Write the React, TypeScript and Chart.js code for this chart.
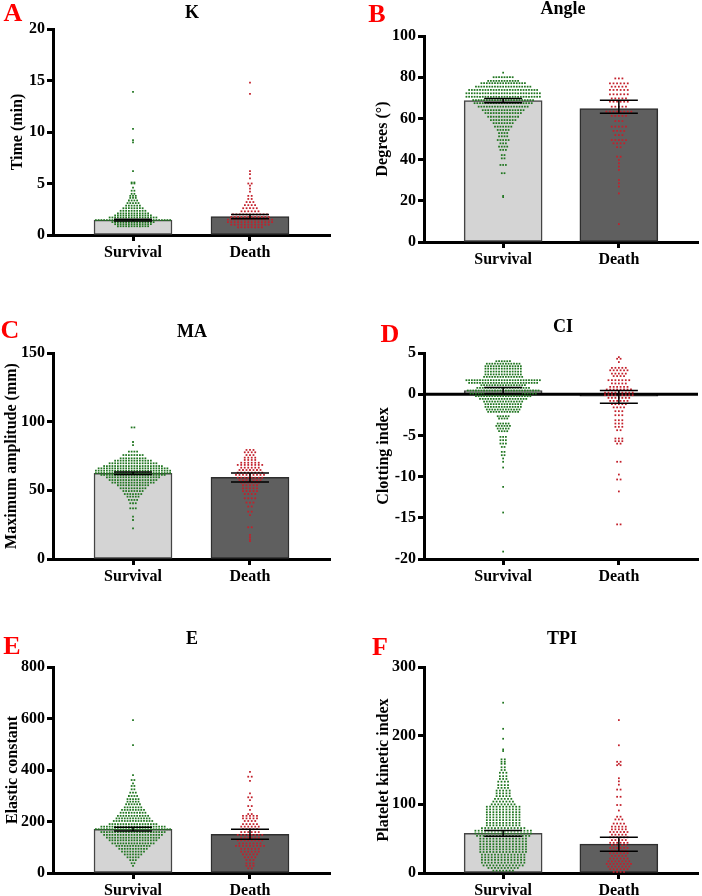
import React, { useEffect, useRef } from "react";
import { Chart, registerables } from "chart.js";
Chart.register(...registerables);

// ---------- DATA ----------
const groups = ["Survival", "Death"];
type Row = [number, number]; // [value, number of patients in that beeswarm row]

// A: K (min)
const kMeans = [1.45, 1.78];
const kErrLow = [1.37, 1.58];
const kErrHigh = [1.53, 1.98];
const kSurvival: Row[] = [[13.9,1],[10.3,1],[9.2,1],[9.0,1],[6.2,1],[5.1,2],[5.0,2],[4.6,1],[4.3,2],[4.0,2],[3.8,3],[3.6,3],[3.35,4],[3.1,5],[2.85,6],[2.6,8],[2.35,10],[2.1,12],[1.9,14],[1.7,18],[1.45,28],[1.25,16],[1.05,14],[0.85,12]];
const kDeath: Row[] = [[14.8,1],[13.7,1],[6.2,1],[5.9,1],[5.5,1],[5.0,2],[4.8,1],[4.5,1],[4.2,1],[3.8,2],[3.5,2],[3.2,3],[2.9,4],[2.6,5],[2.3,6],[2.0,11],[1.75,12],[1.5,14],[1.25,14],[1.0,12],[0.75,8]];

// B: Angle (degrees)
const angleMeans = [68.6, 64.8];
const angleErrLow = [67.6, 62.5];
const angleErrHigh = [69.6, 68.8];
const angleSurvival: Row[] = [[82.2,1],[80,8],[78.2,12],[77.1,17],[75.4,21],[73.8,26],[72.2,28],[70.5,28],[68.9,23],[67.4,22],[65.7,19],[64,16],[62.6,14],[60.8,12],[59.2,10],[57.7,8],[56,7],[54.4,5],[52.9,4],[51.3,4],[49.5,5],[47.9,3],[46.3,4],[44.7,3],[42.2,2],[40.6,2],[37.4,3],[33.4,2],[22.4,1],[21.8,1]];
const angleDeath: Row[] = [[79.4,3],[77,6],[75.4,5],[73.8,6],[71.7,6],[69.7,5],[68.1,6],[65.7,5],[63.3,8],[61.2,5],[58.7,3],[56,5],[53.9,4],[51.9,3],[49.5,5],[47.9,4],[46,2],[41.4,2],[39.8,1],[38.2,1],[36.6,1],[35,1],[30.1,1],[28.5,1],[26.9,1],[23.6,1],[8.7,1]];

// C: MA (mm)
const maMeans = [62.4, 59.5];
const maErrLow = [61.6, 56.1];
const maErrHigh = [63.3, 62.6];
const maSurvival: Row[] = [[95.8,2],[85.2,1],[83,1],[78.2,4],[75.7,8],[73.3,10],[71.6,14],[69.7,18],[67.7,22],[66,26],[64.3,28],[62.6,28],[61.2,24],[59.5,20],[57.5,18],[55.6,16],[53.7,12],[51.5,10],[49.5,8],[47.3,7],[45.4,5],[43,4],[40.6,3],[36.9,3],[30.8,1],[28.4,1],[22.3,1]];
const maDeath: Row[] = [[79.4,3],[77.7,4],[75.7,3],[73.8,4],[72.1,4],[70.1,6],[68.5,8],[66.5,6],[64.8,7],[62.9,8],[61.2,9],[59.2,8],[57.5,7],[55.6,6],[53.7,5],[51.5,5],[49.5,5],[47.3,4],[44.2,4],[41.1,3],[38.2,2],[34.5,2],[32,1],[23.1,2],[17.5,1],[16,1],[14.3,1],[13,1]];

// D: CI
const ciMeans = [0.45, -0.25];
const ciErrLow = [0.05, -1.1];
const ciErrHigh = [0.8, 0.45];
const ciSurvival: Row[] = [[4.0,6],[3.7,13],[3.4,14],[3.1,14],[2.75,14],[2.4,14],[2.1,15],[1.7,28],[1.37,26],[1.09,17],[0.77,20],[0.45,27],[0.08,25],[-0.24,21],[-0.57,18],[-0.89,15],[-1.21,14],[-1.54,14],[-1.86,13],[-2.14,12],[-2.67,5],[-2.95,4],[-3.56,5],[-3.85,6],[-4.17,5],[-4.49,4],[-5.18,3],[-5.58,3],[-5.99,3],[-6.4,2],[-7.0,2],[-7.4,2],[-7.8,1],[-8.2,1],[-8.9,1],[-11.25,1],[-14.36,1],[-19.1,1]];
const ciDeath: Row[] = [[4.5,1],[4.3,2],[3.9,1],[3.2,5],[2.9,6],[2.5,5],[2.2,4],[1.7,7],[1.3,5],[0.89,6],[0.57,8],[0.2,9],[-0.12,9],[-0.45,7],[-0.81,6],[-1.21,5],[-1.6,4],[-2.06,3],[-2.55,3],[-3.16,3],[-3.56,3],[-3.96,3],[-4.37,2],[-5.38,3],[-5.7,3],[-6.0,2],[-8.2,2],[-9.75,1],[-10.35,2],[-11.8,1],[-15.8,2]];

// E: Elastic constant
const eMeans = [170, 150];
const eErrLow = [163, 131];
const eErrHigh = [178, 170];
const eSurvival: Row[] = [[594,1],[497,1],[380,1],[361,2],[348,1],[338,2],[325,2],[312,3],[299,4],[287,5],[277,5],[267,6],[255,7],[245,9],[234,10],[222,12],[212,13],[202,15],[190,18],[180,24],[170,28],[159,24],[148,22],[137,20],[127,18],[115,16],[105,13],[94,11],[83,9],[72,7],[61,5],[50,3],[38,2],[28,1]];
const eDeath: Row[] = [[393,1],[374,2],[358,1],[309.5,1],[294,2],[283,1],[260,2],[245,1],[229,2],[222,5],[212,5],[202,4],[190,5],[180,6],[170,5],[159,6],[148,8],[137,6],[127,8],[115,7],[105,9],[94,6],[83,6],[72.5,5],[61,4],[50.5,3],[37.6,3],[28,3],[18,2]];

// F: TPI
const tpiMeans = [57.7, 42];
const tpiErrLow = [53.5, 31.5];
const tpiErrHigh = [62, 52];
const tpiSurvival: Row[] = [[248,1],[210,1],[195.5,1],[180,1],[177.6,1],[165.5,2],[162,2],[159,2],[154,2],[150,2],[146,3],[141,3],[137,3],[133,4],[128,4],[124,4],[120,5],[116,5],[112,5],[108,6],[104,7],[100,8],[96.5,11],[92.5,11],[88.6,11],[85,11],[81,11],[77,11],[73,11],[69.4,11],[65.5,14],[61.6,18],[57.7,18],[54,17],[50,15],[46,15],[42,15],[38.3,15],[34.4,15],[30.6,15],[26.7,14],[22.8,14],[19,14],[15,14],[11,13],[7.3,10],[3.4,7]];
const tpiDeath: Row[] = [[222.7,1],[186,1],[162,2],[159,1],[157,2],[138,1],[133.5,1],[128.6,1],[121.5,2],[111,2],[99,2],[91,1],[82,2],[78,3],[72,4],[67.5,5],[63.6,5],[59.7,6],[55.8,5],[52,6],[48,5],[44,6],[40.4,5],[36.5,6],[32.6,5],[28.8,6],[25,5],[21,6],[17,7],[13.3,8],[9.4,7],[5.5,6],[1.6,4]];

// ---------- PANELS ----------
interface PanelSpec {
  letter: string; title: string; yTitle: string;
  yMin: number; yMax: number; yStep: number;
  means: number[]; errLow: number[]; errHigh: number[];
  surv: Row[]; death: Row[];
  zeroLine?: boolean;
  dxSurv: number; dxDeath: number;
}

const panels: PanelSpec[] = [
  { letter: "A", title: "K", yTitle: "Time (min)", yMin: 0, yMax: 20, yStep: 5, means: kMeans, errLow: kErrLow, errHigh: kErrHigh, surv: kSurvival, death: kDeath, dxSurv: 2.75, dxDeath: 3.4 },
  { letter: "B", title: "Angle", yTitle: "Degrees (°)", yMin: 0, yMax: 100, yStep: 20, means: angleMeans, errLow: angleErrLow, errHigh: angleErrHigh, surv: angleSurvival, death: angleDeath, dxSurv: 2.75, dxDeath: 3.6 },
  { letter: "C", title: "MA", yTitle: "Maximum amplitude (mm)", yMin: 0, yMax: 150, yStep: 50, means: maMeans, errLow: maErrLow, errHigh: maErrHigh, surv: maSurvival, death: maDeath, dxSurv: 2.75, dxDeath: 3.5 },
  { letter: "D", title: "CI", yTitle: "Clotting index", yMin: -20, yMax: 5, yStep: 5, means: ciMeans, errLow: ciErrLow, errHigh: ciErrHigh, surv: ciSurvival, death: ciDeath, zeroLine: true, dxSurv: 2.75, dxDeath: 3.5 },
  { letter: "E", title: "E", yTitle: "Elastic constant", yMin: 0, yMax: 800, yStep: 200, means: eMeans, errLow: eErrLow, errHigh: eErrHigh, surv: eSurvival, death: eDeath, dxSurv: 2.75, dxDeath: 3.5 },
  { letter: "F", title: "TPI", yTitle: "Platelet kinetic index", yMin: 0, yMax: 300, yStep: 100, means: tpiMeans, errLow: tpiErrLow, errHigh: tpiErrHigh, surv: tpiSurvival, death: tpiDeath, dxSurv: 3.3, dxDeath: 3.5 },
];

// layout (pixels, local to each panel canvas)
const layouts = [
  { x: 0, y: 0, w: 351, h: 300, left: 53, right: 330, top: 29, bottom: 235, letterPos: [13, 14], titlePos: [192, 13], yTitleX: 18 },
  { x: 351, y: 0, w: 351, h: 300, left: 73, right: 350, top: 36, bottom: 242, letterPos: [26, 15], titlePos: [212, 9], yTitleX: 32 },
  { x: 0, y: 300, w: 351, h: 300, left: 53, right: 330, top: 53, bottom: 259, letterPos: [10, 31], titlePos: [192, 32], yTitleX: 12 },
  { x: 351, y: 300, w: 351, h: 300, left: 73, right: 350, top: 53, bottom: 259, letterPos: [39, 35], titlePos: [212, 27], yTitleX: 33 },
  { x: 0, y: 600, w: 351, h: 296, left: 53, right: 330, top: 67, bottom: 273, letterPos: [12, 47], titlePos: [192, 39], yTitleX: 13 },
  { x: 351, y: 600, w: 351, h: 296, left: 73, right: 350, top: 67, bottom: 273, letterPos: [29, 48], titlePos: [211, 39], yTitleX: 33 },
];

const X_MIN = -0.684;
const X_MAX = 1.684;
const X_AXIS_H = 30;
const FONT = "'Liberation Serif', 'Times New Roman', serif";
const GREEN = "#217621";
const RED = "#c3202b";

function swarm(rows: Row[], center: number, dxPx: number, pxPerUnit: number) {
  const pts: { x: number; y: number }[] = [];
  const dx = dxPx / pxPerUnit;
  rows.forEach(([v, n]) => {
    for (let i = 0; i < n; i++) {
      pts.push({ x: center + (i - (n - 1) / 2) * dx, y: v });
    }
  });
  return pts;
}

function Panel({ p, l }: { p: PanelSpec; l: typeof layouts[number] }) {
  const ref = useRef<HTMLCanvasElement>(null);
  useEffect(() => {
    const canvas = ref.current!;
    const pxPerUnit = (l.right - l.left) / (X_MAX - X_MIN);
    const decor = {
      id: "decor" + p.letter,
      afterDatasetDraw(chart: any, args: any) {
        if (args.index === 0 && p.zeroLine) {
          const ctx = chart.ctx;
          const y0 = chart.scales.y.getPixelForValue(0);
          ctx.save();
          ctx.strokeStyle = "#000";
          ctx.lineWidth = 3;
          ctx.beginPath();
          ctx.moveTo(chart.chartArea.left, y0);
          ctx.lineTo(chart.chartArea.right, y0);
          ctx.stroke();
          ctx.restore();
        }
      },
      afterDatasetsDraw(chart: any) {
        const ctx = chart.ctx;
        const xs = chart.scales.x, ys = chart.scales.y;
        ctx.save();
        ctx.strokeStyle = "#000";
        ctx.lineWidth = 1.5;
        for (let i = 0; i < 2; i++) {
          const cx = xs.getPixelForValue(i);
          const yl = ys.getPixelForValue(p.errLow[i]);
          const yh = ys.getPixelForValue(p.errHigh[i]);
          ctx.beginPath();
          ctx.moveTo(cx, yl); ctx.lineTo(cx, yh);
          ctx.moveTo(cx - 19, yl); ctx.lineTo(cx + 19, yl);
          ctx.moveTo(cx - 19, yh); ctx.lineTo(cx + 19, yh);
          ctx.stroke();
        }
        ctx.restore();
      },
      afterDraw(chart: any) {
        const ctx = chart.ctx;
        const ca = chart.chartArea;
        ctx.save();
        ctx.textAlign = "center";
        ctx.textBaseline = "middle";
        ctx.fillStyle = "#ff0000";
        ctx.font = `bold 26px ${FONT}`;
        ctx.fillText(p.letter, l.letterPos[0], l.letterPos[1]);
        ctx.fillStyle = "#000";
        ctx.font = `bold 18px ${FONT}`;
        ctx.fillText(p.title, l.titlePos[0], l.titlePos[1]);
        ctx.font = `bold 16px ${FONT}`;
        ctx.translate(l.yTitleX, (ca.top + ca.bottom) / 2);
        ctx.rotate(-Math.PI / 2);
        ctx.fillText(p.yTitle, 0, 0);
        ctx.restore();
      },
    };
    const chart = new Chart(canvas, {
      type: "bar",
      data: {
        datasets: [
          {
            type: "bar",
            data: [{ x: 0, y: p.means[0] }, { x: 1, y: p.means[1] }],
            backgroundColor: ["#d4d4d4", "#5f5f5f"],
            borderColor: ["#444444", "#2e2e2e"],
            borderWidth: 1.5,
            borderSkipped: false,
            barThickness: 78,
            order: 3,
          } as any,
          {
            type: "scatter",
            data: swarm(p.surv, 0, p.dxSurv, pxPerUnit),
            backgroundColor: GREEN,
            borderColor: GREEN,
            borderWidth: 0,
            pointStyle: "rect",
            pointRadius: 1.25,
            order: 1,
          } as any,
          {
            type: "scatter",
            data: swarm(p.death, 1, p.dxDeath, pxPerUnit),
            backgroundColor: RED,
            borderColor: RED,
            borderWidth: 0,
            pointStyle: "rect",
            pointRadius: 1.25,
            order: 1,
          } as any,
        ],
      },
      options: {
        animation: false,
        responsive: false,
        devicePixelRatio: 1,
        events: [],
        layout: { padding: { left: 0, top: l.top, right: l.w - l.right, bottom: l.h - l.bottom - X_AXIS_H } },
        plugins: { legend: { display: false }, tooltip: { enabled: false }, title: { display: false } },
        scales: {
          x: {
            type: "linear",
            min: X_MIN,
            max: X_MAX,
            offset: false,
            afterBuildTicks: (s: any) => { s.ticks = [{ value: 0 }, { value: 1 }]; },
            afterFit: (s: any) => { s.height = X_AXIS_H; },
            ticks: {
              autoSkip: false,
              maxRotation: 0,
              padding: 2,
              color: "#000",
              font: { family: FONT, size: 16, weight: "bold" },
              callback: (v: any) => groups[Math.round(Number(v))],
            },
            grid: { drawOnChartArea: false, offset: false, drawTicks: true, tickLength: 6, tickWidth: 3, tickColor: "#000" },
            border: { display: true, width: 3, color: "#000" },
          } as any,
          y: {
            type: "linear",
            min: p.yMin,
            max: p.yMax,
            afterFit: (s: any) => { s.width = l.left; },
            ticks: {
              stepSize: p.yStep,
              padding: 2,
              color: "#000",
              font: { family: FONT, size: 16, weight: "bold" },
            },
            grid: { drawOnChartArea: false, drawTicks: true, tickLength: 6, tickWidth: 3, tickColor: "#000" },
            border: { display: true, width: 3, color: "#000" },
          } as any,
        },
      },
      plugins: [decor as any],
    });
    return () => chart.destroy();
  }, []);
  return (
    <canvas
      ref={ref}
      width={l.w}
      height={l.h}
      style={{ position: "absolute", left: l.x, top: l.y, width: l.w, height: l.h }}
    />
  );
}

export default function App() {
  return (
    <div style={{ position: "absolute", left: 0, top: 0, width: 702, height: 896, background: "#fff", overflow: "hidden" }}>
      {panels.map((p, i) => (
        <Panel key={p.letter} p={p} l={layouts[i]} />
      ))}
    </div>
  );
}
